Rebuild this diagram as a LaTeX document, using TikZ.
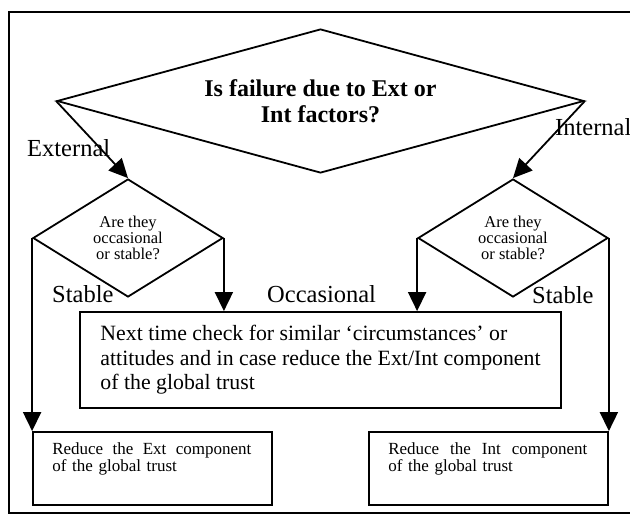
\documentclass[tikz,border=0pt]{standalone}
\usepackage{fontspec}
\setmainfont{Liberation Serif}
\usetikzlibrary{arrows.meta,shapes.geometric,calc}
\tikzset{
  bigdiamond/.style ={draw,diamond,line width=1.8pt,inner sep=0pt,align=center,aspect=3.66,
                       minimum width=527pt,minimum height=144pt,
                       font=\bfseries\fontsize{24}{26}\selectfont},
  qdiamond/.style   ={draw,diamond,line width=1.8pt,inner sep=0pt,align=center,aspect=1.61,
                       minimum width=190pt,minimum height=118pt,
                       font=\fontsize{16.5}{16}\selectfont},
  actbox/.style     ={draw,line width=1.8pt,align=left,inner xsep=20pt,
                       minimum width=481pt,minimum height=96pt,font=\fontsize{21.8}{24.5}\selectfont},
  resbox/.style     ={draw,line width=1.8pt,minimum width=239pt,minimum height=73pt},
  restext/.style    ={align=left,text width=199pt,inner sep=0pt,
                       font=\fontsize{17}{15.5}\selectfont},
  lbl/.style        ={inner sep=0pt,font=\fontsize{24.5}{28}\selectfont},
  flow/.style       ={-{Triangle[length=19pt,width=18pt]},line width=1.8pt},
}
\begin{document}
\begin{tikzpicture}[x=1pt,y=-1pt]
\useasboundingbox (0,0) rectangle (630,515);
% outer frame
\draw[line width=2pt] (9,12) rectangle (640,513);
% decisions
\node[bigdiamond] (cause) at (320.5,101) {Is failure due to Ext or\\Int factors?};
\node[qdiamond]   (qext)  at (128,238)   {Are they\\occasional\\or stable?};
\node[qdiamond]   (qint)  at (513,238)   {Are they\\occasional\\or stable?};
% actions
\node[actbox] (check) at (320.5,360) {Next time check for similar ‘circumstances’ or\\attitudes and in case reduce the Ext/Int component\\of the global trust};
\node[resbox] (extbox) at (152.5,468.5) {};
\node[resbox] (intbox) at (488.5,468.5) {};
\node[restext,anchor=north west] (exttxt) at ($(extbox.north west)+(20,11.5)$) {Reduce\hfill the\hfill Ext\hfill component\\of the global trust};
\node[restext,anchor=north west] (inttxt) at ($(intbox.north west)+(20,11.5)$) {Reduce\hfill the\hfill Int\hfill component\\of the global trust};
% branch labels
\node[lbl,anchor=base west] (extlbl)  at (27,156)  {External};
\node[lbl,anchor=base west] (intlbl)  at (555,135) {Internal};
\node[lbl,anchor=base west] (stbl)    at (52,302)  {Stable};
\node[lbl,anchor=base west] (occlbl)  at (267,302) {Occasional};
\node[lbl,anchor=base west] (stbr)    at (532,303) {Stable};
% connectors
\draw[flow] (cause.west) -- (qext.north);
\draw[flow] (cause.east) -- (qint.north);
\draw[flow] (qext.west) -- (extbox.north west);
\draw[flow] (qext.east) -- (qext.east |- check.north);
\draw[flow] (qint.west) -- (qint.west |- check.north);
\draw[flow] (qint.east) -- (intbox.north east);
\end{tikzpicture}
\end{document}
